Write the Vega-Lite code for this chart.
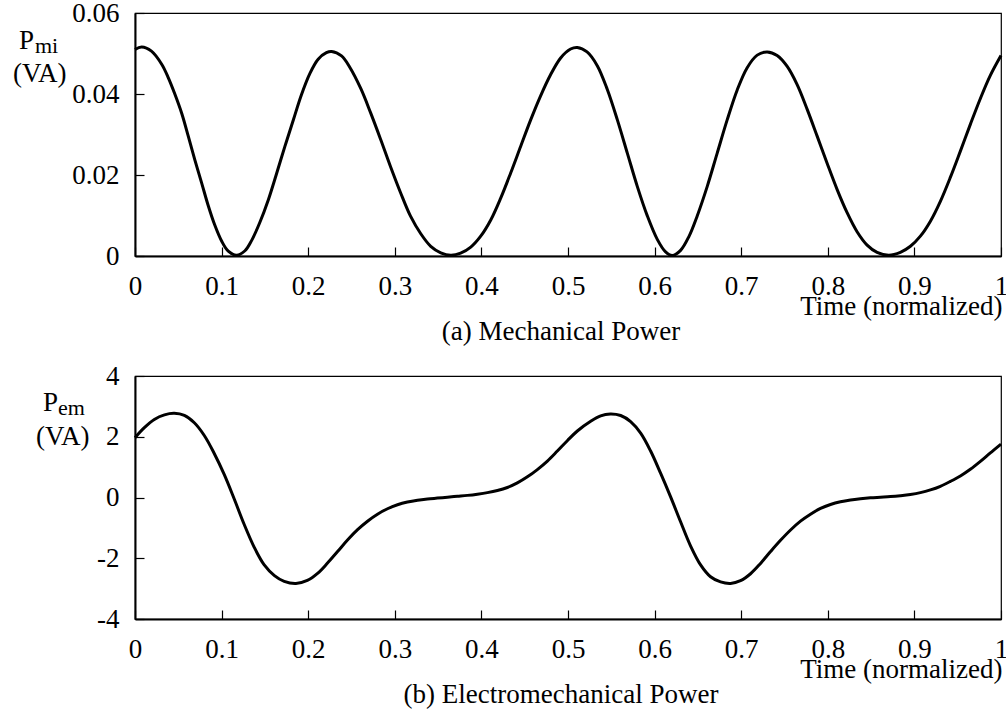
{
  "$schema": "https://vega.github.io/schema/vega-lite/v6.json",
  "padding": {"left": 12, "top": -2, "right": 0, "bottom": 0},
  "background": "white",
  "config": {
    "font": "Liberation Serif",
    "view": {"stroke": "black", "strokeWidth": 1.2},
    "text": {"font": "Liberation Serif"},
    "style": {"guide-label": {"font": "Liberation Serif", "fontSize": 27, "fill": "black"}, "guide-title": {"font": "Liberation Serif", "fontSize": 27, "fill": "black"}},
    "axis": {
      "domainColor": "black", "domainWidth": 2,
      "tickColor": "black", "tickWidth": 1.2, "tickSize": -9,
      "labelFont": "Liberation Serif", "labelFontSize": 27, "labelColor": "black",
      "titleFont": "Liberation Serif", "titleFontSize": 27, "titleColor": "black", "titleFontWeight": "normal",
      "grid": false
    },
    "title": {"font": "Liberation Serif", "fontSize": 27, "fontWeight": "normal", "color": "black"}
  },
  "spacing": 15,
  "vconcat": [
    {
      "width": 866, "height": 243,
      "title": {"text": "(a) Mechanical Power", "orient": "bottom", "anchor": "middle", "frame": "group", "dx": -7, "offset": 0},
      "layer": [
        {
          "data": {"values": [
            {"t":0,"p":0.0510},{"t":0.0077,"p":0.0516},{"t":0.019,"p":0.0506},{"t":0.031,"p":0.0473},{"t":0.0385,"p":0.0440},
            {"t":0.046,"p":0.0400},{"t":0.054,"p":0.0352},{"t":0.0615,"p":0.0296},{"t":0.069,"p":0.0238},{"t":0.077,"p":0.0180},
            {"t":0.0846,"p":0.0124},{"t":0.092,"p":0.0077},{"t":0.100,"p":0.0037},{"t":0.1077,"p":0.0012},{"t":0.1173,"p":0.0002},
            {"t":0.127,"p":0.0013},{"t":0.1346,"p":0.0038},{"t":0.144,"p":0.0082},{"t":0.154,"p":0.0139},{"t":0.163,"p":0.0200},
            {"t":0.173,"p":0.0270},{"t":0.183,"p":0.0337},{"t":0.192,"p":0.0397},{"t":0.202,"p":0.0451},{"t":0.2115,"p":0.0486},
            {"t":0.221,"p":0.0502},{"t":0.227,"p":0.0505},{"t":0.2385,"p":0.0494},{"t":0.248,"p":0.0466},{"t":0.2608,"p":0.0413},
            {"t":0.272,"p":0.0354},{"t":0.2838,"p":0.0287},{"t":0.295,"p":0.0221},{"t":0.3069,"p":0.0155},{"t":0.318,"p":0.0099},
            {"t":0.330,"p":0.0055},{"t":0.3415,"p":0.0024},{"t":0.3531,"p":0.0008},{"t":0.3646,"p":0.0002},{"t":0.376,"p":0.0007},
            {"t":0.3877,"p":0.0022},{"t":0.3992,"p":0.0049},{"t":0.4108,"p":0.0089},{"t":0.4223,"p":0.0143},{"t":0.4338,"p":0.0205},
            {"t":0.4454,"p":0.0271},{"t":0.4569,"p":0.0336},{"t":0.4685,"p":0.0396},{"t":0.48,"p":0.0448},{"t":0.4915,"p":0.0489},
            {"t":0.503,"p":0.0511},{"t":0.5107,"p":0.0515},{"t":0.522,"p":0.0504},{"t":0.5338,"p":0.0470},{"t":0.5454,"p":0.0411},
            {"t":0.557,"p":0.0336},{"t":0.5685,"p":0.0254},{"t":0.58,"p":0.0172},{"t":0.5916,"p":0.0099},{"t":0.6031,"p":0.0041},
            {"t":0.6127,"p":0.0010},{"t":0.6204,"p":0.0001},{"t":0.63,"p":0.0014},{"t":0.6396,"p":0.0048},{"t":0.6492,"p":0.0099},
            {"t":0.6608,"p":0.0172},{"t":0.6723,"p":0.0254},{"t":0.6838,"p":0.0336},{"t":0.6954,"p":0.0410},{"t":0.7069,"p":0.0465},
            {"t":0.7185,"p":0.0496},{"t":0.73,"p":0.0504},{"t":0.7415,"p":0.0495},{"t":0.7531,"p":0.0468},{"t":0.7646,"p":0.0423},
            {"t":0.7762,"p":0.0362},{"t":0.7877,"p":0.0296},{"t":0.7992,"p":0.0229},{"t":0.8108,"p":0.0164},{"t":0.8223,"p":0.0107},
            {"t":0.8338,"p":0.0060},{"t":0.8454,"p":0.0027},{"t":0.8569,"p":0.0009},{"t":0.8704,"p":0.0002},{"t":0.8838,"p":0.0009},
            {"t":0.8954,"p":0.0024},{"t":0.9069,"p":0.0049},{"t":0.9185,"p":0.0086},{"t":0.93,"p":0.0135},{"t":0.9415,"p":0.0194},
            {"t":0.9531,"p":0.0259},{"t":0.9646,"p":0.0325},{"t":0.9762,"p":0.0389},{"t":0.9877,"p":0.0446},{"t":1.0,"p":0.0495}
          ]},
          "mark": {"type": "line", "color": "black", "strokeWidth": 3, "interpolate": "catmull-rom"},
          "encoding": {
            "x": {"field": "t", "type": "quantitative", "scale": {"domain": [0, 1], "nice": false},
              "axis": {"values": [0,0.1,0.2,0.3,0.4,0.5,0.6,0.7,0.8,0.9,1], "format": ".1~f", "labelPadding": 26, "labelFlush": false,
                "labelFont": "Liberation Serif", "labelFontSize": 27,
                "title": "Time (normalized)", "titleAnchor": "end", "titleAlign": "right", "titleX": 867, "titleY": 58, "titleBaseline": "alphabetic"}},
            "y": {"field": "p", "type": "quantitative", "scale": {"domain": [0, 0.06], "nice": false, "zero": false},
              "axis": {"values": [0, 0.02, 0.04, 0.06], "format": ".2~f", "labelPadding": 25, "labelFont": "Liberation Serif", "labelFontSize": 27, "title": null}}
          }
        },
        {
          "data": {"values": [{}]},
          "mark": {"type": "text", "text": "P", "font": "Liberation Serif", "fontSize": 27, "align": "left", "baseline": "alphabetic", "dx": -116, "dy": 36, "color": "black"},
          "encoding": {"x": {"datum": 0}, "y": {"datum": 0.06}}
        },
        {
          "data": {"values": [{}]},
          "mark": {"type": "text", "text": "mi", "font": "Liberation Serif", "fontSize": 22, "align": "left", "baseline": "alphabetic", "dx": -100, "dy": 40, "color": "black"},
          "encoding": {"x": {"datum": 0}, "y": {"datum": 0.06}}
        },
        {
          "data": {"values": [{}]},
          "mark": {"type": "text", "text": "(VA)", "font": "Liberation Serif", "fontSize": 27, "align": "left", "baseline": "alphabetic", "dx": -122, "dy": 69, "color": "black"},
          "encoding": {"x": {"datum": 0}, "y": {"datum": 0.06}}
        }
      ]
    },
    {
      "width": 866, "height": 243,
      "title": {"text": "(b) Electromechanical Power", "orient": "bottom", "anchor": "middle", "frame": "group", "dx": -7, "offset": 0},
      "layer": [
        {
          "data": {"values": [
            {"t":0,"p":1.97},{"t":0.0108,"p":2.30},{"t":0.0223,"p":2.57},{"t":0.034,"p":2.72},{"t":0.0454,"p":2.77},
            {"t":0.057,"p":2.70},{"t":0.0685,"p":2.46},{"t":0.080,"p":2.04},{"t":0.0915,"p":1.45},{"t":0.103,"p":0.76},
            {"t":0.1146,"p":-0.05},{"t":0.126,"p":-0.88},{"t":0.1377,"p":-1.64},{"t":0.149,"p":-2.21},{"t":0.161,"p":-2.57},
            {"t":0.1723,"p":-2.76},{"t":0.1858,"p":-2.83},{"t":0.199,"p":-2.73},{"t":0.2108,"p":-2.50},{"t":0.2223,"p":-2.16},
            {"t":0.2339,"p":-1.78},{"t":0.2454,"p":-1.40},{"t":0.257,"p":-1.06},{"t":0.2685,"p":-0.78},{"t":0.280,"p":-0.55},
            {"t":0.2916,"p":-0.37},{"t":0.3031,"p":-0.24},{"t":0.3146,"p":-0.15},{"t":0.3262,"p":-0.09},{"t":0.3377,"p":-0.05},
            {"t":0.3492,"p":-0.02},{"t":0.3608,"p":0.01},{"t":0.3723,"p":0.04},{"t":0.3838,"p":0.07},{"t":0.3954,"p":0.11},
            {"t":0.4069,"p":0.16},{"t":0.4185,"p":0.23},{"t":0.43,"p":0.33},{"t":0.4415,"p":0.48},{"t":0.4531,"p":0.68},
            {"t":0.4646,"p":0.92},{"t":0.4762,"p":1.20},{"t":0.4877,"p":1.53},{"t":0.4992,"p":1.87},{"t":0.5108,"p":2.19},
            {"t":0.5262,"p":2.51},{"t":0.5377,"p":2.69},{"t":0.549,"p":2.75},{"t":0.5608,"p":2.70},{"t":0.5723,"p":2.50},
            {"t":0.5839,"p":2.12},{"t":0.5954,"p":1.53},{"t":0.6069,"p":0.80},{"t":0.6185,"p":0.02},{"t":0.630,"p":-0.80},
            {"t":0.6416,"p":-1.60},{"t":0.6531,"p":-2.22},{"t":0.6646,"p":-2.61},{"t":0.6762,"p":-2.78},{"t":0.6877,"p":-2.83},
            {"t":0.6992,"p":-2.74},{"t":0.7108,"p":-2.51},{"t":0.7223,"p":-2.17},{"t":0.7339,"p":-1.78},{"t":0.7454,"p":-1.41},
            {"t":0.757,"p":-1.07},{"t":0.7685,"p":-0.78},{"t":0.780,"p":-0.55},{"t":0.7916,"p":-0.36},{"t":0.8031,"p":-0.23},
            {"t":0.8146,"p":-0.14},{"t":0.8262,"p":-0.08},{"t":0.8377,"p":-0.04},{"t":0.8492,"p":-0.01},{"t":0.8608,"p":0.01},
            {"t":0.8723,"p":0.03},{"t":0.8838,"p":0.06},{"t":0.8954,"p":0.10},{"t":0.9069,"p":0.16},{"t":0.9185,"p":0.25},
            {"t":0.93,"p":0.37},{"t":0.9415,"p":0.53},{"t":0.9531,"p":0.71},{"t":0.9646,"p":0.93},{"t":0.9762,"p":1.19},
            {"t":0.9877,"p":1.47},{"t":1.0,"p":1.76}
          ]},
          "mark": {"type": "line", "color": "black", "strokeWidth": 3, "interpolate": "catmull-rom"},
          "encoding": {
            "x": {"field": "t", "type": "quantitative", "scale": {"domain": [0, 1], "nice": false},
              "axis": {"values": [0,0.1,0.2,0.3,0.4,0.5,0.6,0.7,0.8,0.9,1], "format": ".1~f", "labelPadding": 26, "labelFlush": false,
                "labelFont": "Liberation Serif", "labelFontSize": 27,
                "title": "Time (normalized)", "titleAnchor": "end", "titleAlign": "right", "titleX": 867, "titleY": 58, "titleBaseline": "alphabetic"}},
            "y": {"field": "p", "type": "quantitative", "scale": {"domain": [-4, 4], "nice": false, "zero": false},
              "axis": {"values": [-4, -2, 0, 2, 4], "format": "d", "labelExpr": "replace(datum.label, '\u2212', '-')", "labelPadding": 25, "labelFont": "Liberation Serif", "labelFontSize": 27, "title": null}}
          }
        },
        {
          "data": {"values": [{}]},
          "mark": {"type": "text", "text": "P", "font": "Liberation Serif", "fontSize": 27, "align": "left", "baseline": "alphabetic", "dx": -92, "dy": 35, "color": "black"},
          "encoding": {"x": {"datum": 0}, "y": {"datum": 4}}
        },
        {
          "data": {"values": [{}]},
          "mark": {"type": "text", "text": "em", "font": "Liberation Serif", "fontSize": 22, "align": "left", "baseline": "alphabetic", "dx": -77, "dy": 39, "color": "black"},
          "encoding": {"x": {"datum": 0}, "y": {"datum": 4}}
        },
        {
          "data": {"values": [{}]},
          "mark": {"type": "text", "text": "(VA)", "font": "Liberation Serif", "fontSize": 27, "align": "left", "baseline": "alphabetic", "dx": -99, "dy": 69, "color": "black"},
          "encoding": {"x": {"datum": 0}, "y": {"datum": 4}}
        }
      ]
    }
  ]
}
